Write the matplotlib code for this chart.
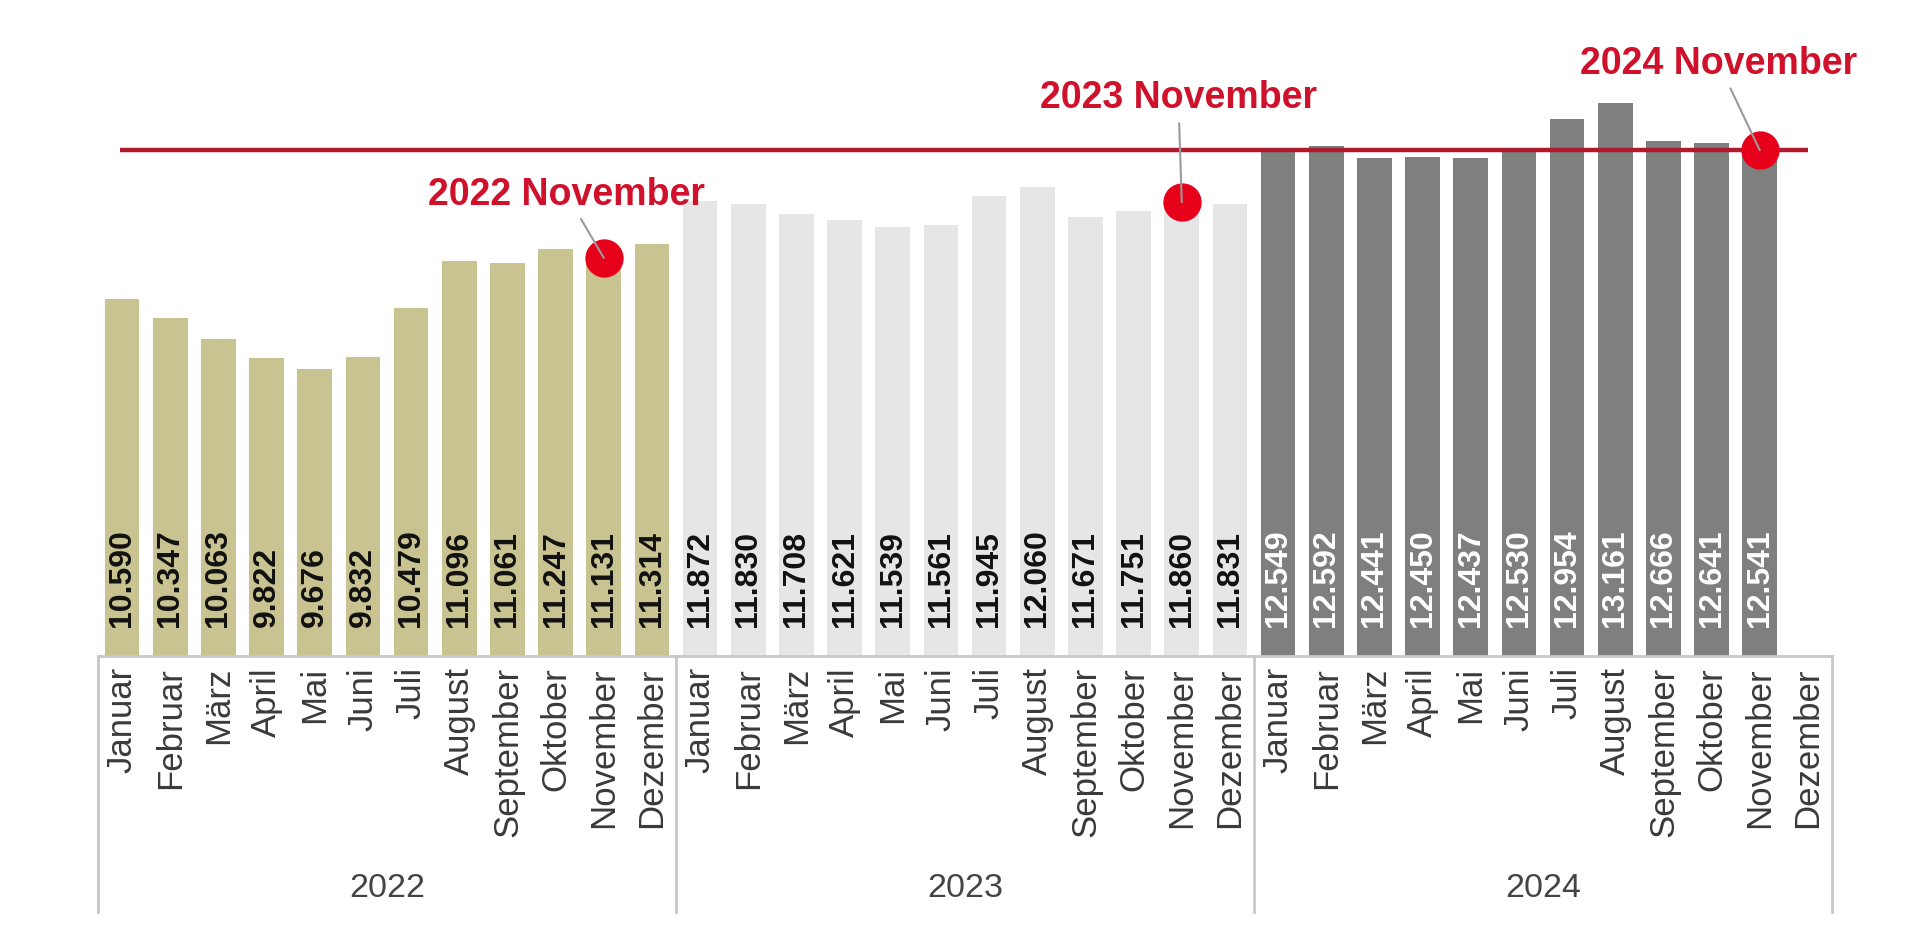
import matplotlib
matplotlib.use("Agg")
import matplotlib.pyplot as plt
import matplotlib.transforms as mtransforms

plt.rcParams['font.family'] = ['Liberation Sans', 'DejaVu Sans']

months = ['Januar', 'Februar', 'März', 'April', 'Mai', 'Juni', 'Juli',
          'August', 'September', 'Oktober', 'November', 'Dezember']
years = ['2022', '2023', '2024']
values_2022 = [10.590, 10.347, 10.063, 9.822, 9.676, 9.832, 10.479,
               11.096, 11.061, 11.247, 11.131, 11.314]
values_2023 = [11.872, 11.830, 11.708, 11.621, 11.539, 11.561, 11.945,
               12.060, 11.671, 11.751, 11.860, 11.831]
values_2024 = [12.549, 12.592, 12.441, 12.450, 12.437, 12.530, 12.954,
               13.161, 12.666, 12.641, 12.541]
highlight_month = 'November'

bar_colors = ['#c9c392', '#e6e6e6', '#7f7f7f']
label_colors = ['#111111', '#111111', '#ffffff']
red_text = '#d0112b'
red_dot = '#e6001a'
red_line = '#b01a2e'
grid_gray = '#c8c8c8'

fig = plt.figure(figsize=(19.2, 9.34), dpi=100)
ax = fig.add_axes([98 / 1920, 278 / 934, 1734 / 1920, 656 / 934])

series = [values_2022, values_2023, values_2024]
ymin = 5.92
ax.set_xlim(-0.5, 12 * len(years) - 0.5)
ax.set_ylim(ymin, ymin + 656 / 76.4)

# bars and value labels
for g, vals in enumerate(series):
    xs = [g * 12 + i for i in range(len(vals))]
    ax.bar(xs, [v - ymin for v in vals], bottom=ymin, width=0.72,
           color=bar_colors[g], zorder=2)
    for x, v in zip(xs, vals):
        ax.annotate('{:.3f}'.format(v), (x, ymin), xytext=(0, 21),
                    textcoords='offset points', rotation=90, ha='center',
                    va='bottom', fontsize=23, fontweight='bold',
                    color=label_colors[g], zorder=3)

# reference line at the latest November
nov = months.index(highlight_month)
ax.hlines(values_2024[nov], -0.05, 35.0, color=red_line, lw=3.2, zorder=3)

# November markers with labels
text_pos = [(9.23, 11.96), (21.93, 13.22), (33.15, 13.67)]
for g, vals in enumerate(series):
    x = g * 12 + nov
    ax.scatter([x], [vals[nov]], s=760, color=red_dot, zorder=4,
               linewidths=0)
    ax.annotate('{} {}'.format(years[g], highlight_month), (x, vals[nov]),
                xytext=text_pos[g], textcoords='data', ha='center',
                va='center', fontsize=27, fontweight='bold', color=red_text,
                arrowprops=dict(arrowstyle='-', color='#9a9a9a', lw=1.5,
                                shrinkA=3, shrinkB=0),
                zorder=5)

# month tick labels
ax.set_xticks(range(12 * len(years)))
ax.set_xticklabels(months * len(years), rotation=90, fontsize=25,
                   color='#3a3a3a')
ax.tick_params(axis='x', length=0, pad=8)
ax.set_yticks([])
for s in ['top', 'left', 'right']:
    ax.spines[s].set_visible(False)
ax.spines['bottom'].set_color(grid_gray)
ax.spines['bottom'].set_linewidth(2)

# group separators and year labels
trans = mtransforms.blended_transform_factory(ax.transData, ax.transAxes)
for g in range(len(years) + 1):
    ax.plot([g * 12 - 0.5] * 2, [0, -0.39], color=grid_gray, lw=2,
            transform=trans, clip_on=False)
for g, yr in enumerate(years):
    ax.text(g * 12 + 5.5, -0.354, yr, transform=trans, ha='center',
            va='center', fontsize=24.5, color='#444444')

fig.savefig('out.png', dpi=100)
